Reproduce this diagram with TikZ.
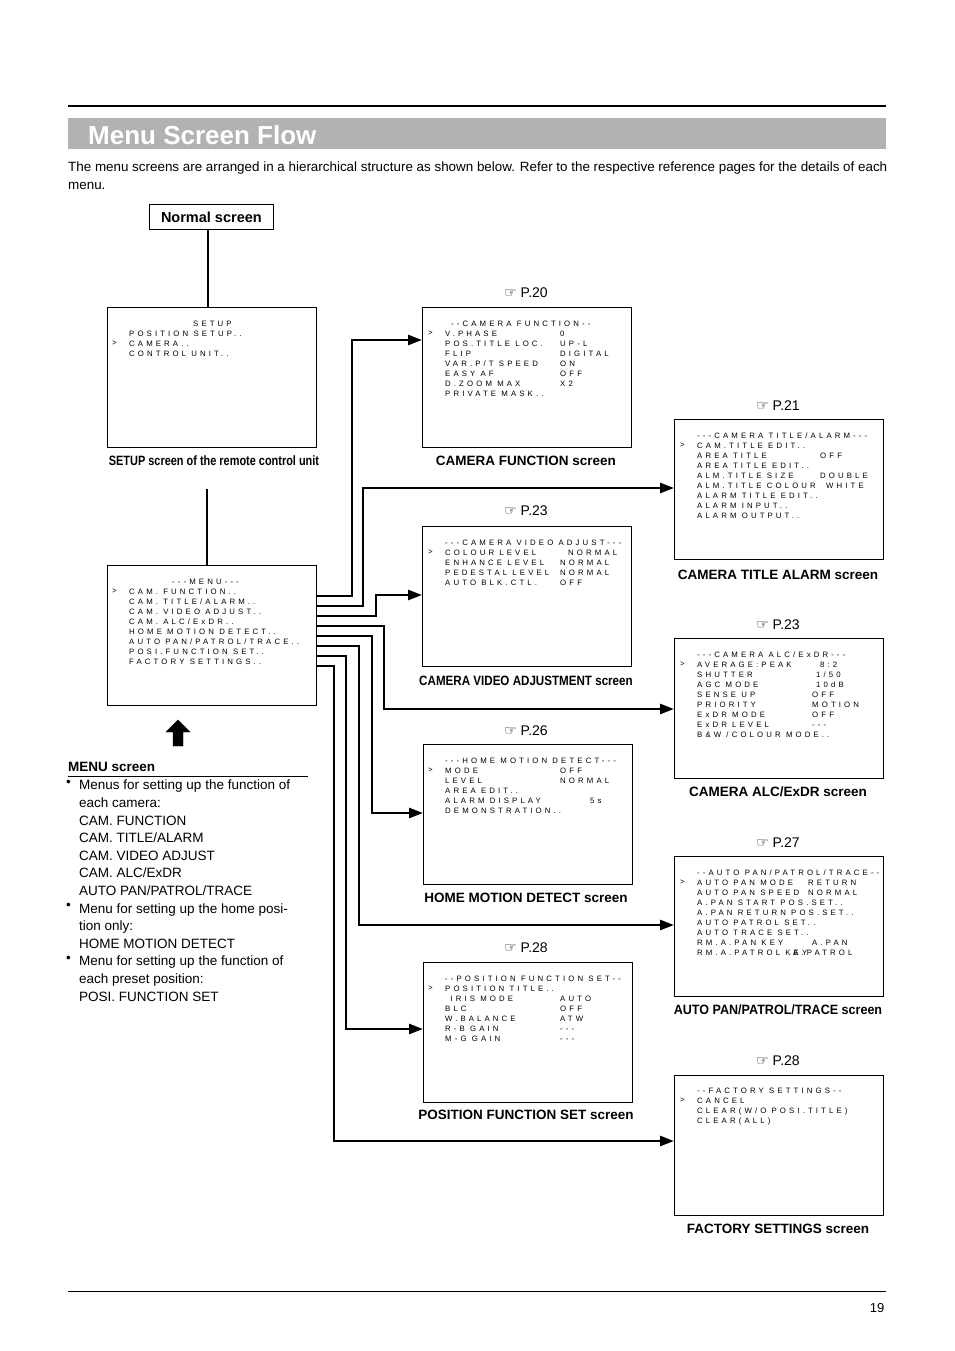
\documentclass[tikz,border=0pt]{standalone}
\usepackage{fontspec}
\setmainfont{Liberation Sans}
\newfontfamily\scrf{Liberation Sans}[LetterSpace=40]
\newfontfamily\djf{DejaVu Sans}
\usetikzlibrary{arrows.meta}
\newcommand\rw[3][115]{\makebox[#1pt][l]{#2}#3\\}
\begin{document}
\begin{tikzpicture}[x=1pt,y=-1pt,
  box/.style={draw,line width=0.8pt,anchor=north west,minimum width=209pt,minimum height=140pt,inner sep=0},
  st/.style={anchor=north west,inner sep=0,align=left,font=\scrf\fontsize{7.8}{10}\selectfont},
  capt/.style={font=\bfseries\fontsize{13.5}{15}\selectfont,inner sep=0},
  pg/.style={font=\fontsize{14}{16}\selectfont,inner sep=0},
  con/.style={line width=2.6pt,line cap=butt,line join=miter},
  arr/.style={con,-{Triangle[length=14pt,width=10pt]}},
  body/.style={font=\fontsize{13.5}{17.6}\selectfont,inner sep=0,anchor=north west,align=left}]
\useasboundingbox (0,0) rectangle (954,1351);
% header
\draw[line width=2.5pt] (68,106) -- (886,106);
\fill[gray!60] (68,118) rectangle (886,149);
\node[anchor=west,inner sep=0,text=white,font=\bfseries\fontsize{26}{30}\selectfont] (ttl) at (88,135) {Menu Screen Flow};
\node[body,font=\fontsize{13.4}{18}\selectfont] (intro) at (68,162) {The menu screens are arranged in a hierarchical structure as shown below. Refer to the respective reference pages for the details of each\\menu.};
\draw[line width=0.6pt] (68,1291) -- (886,1291);
\node[inner sep=0,font=\fontsize{13}{15}\selectfont] (pno) at (877,1308) {19};
% normal screen
\node[draw,line width=0.8pt,minimum width=124pt,minimum height=25pt,inner sep=0,anchor=north west,font=\bfseries\fontsize{14.5}{16}\selectfont] (normal) at (149,204) {Normal screen};
% boxes
\node[box] (setup) at (107,307) {};
\node[box] (menu) at (107,565) {};
\node[box] (cf) at (422,307) {};
\node[box] (va) at (422,526) {};
\node[box] (hm) at (423,744) {};
\node[box] (pf) at (423,962) {};
\node[box] (ta) at (674,419) {};
\node[box] (alc) at (674,638) {};
\node[box] (ap) at (674,856) {};
\node[box] (fs) at (674,1075) {};
% connectors setup/menu
\draw[con] (normal.south -| 208,0) -- (setup.north -| 208,0);
\coordinate (gapt) at (207,489);
\draw[con] (gapt) -- (menu.north -| 207,0);
\draw[fill=black] (178,720) -- (190,732) -- (183,732) -- (183,746) -- (173,746) -- (173,732) -- (166,732) -- cycle;
% screen texts
\node[st] (t1) at (129,321) {\hspace*{64pt}SETUP\\POSITION SETUP..\\CAMERA..\\CONTROL UNIT..};
\node[st] (c1) at (112,341) {>};
\node[st] (t2) at (129,579) {\hspace*{43pt}---MENU---\\CAM. FUNCTION..\\CAM. TITLE/ALARM..\\CAM. VIDEO ADJUST..\\CAM. ALC/ExDR..\\HOME MOTION DETECT..\\AUTO PAN/PATROL/TRACE..\\POSI.FUNCTION SET..\\FACTORY SETTINGS..};
\node[st] (c2) at (112,589) {>};
\node[st] (t3) at (445,321) {\hspace*{6pt}--CAMERA FUNCTION--\\\rw{V.PHASE}{0}\rw{POS.TITLE LOC.}{UP-L}\rw{FLIP}{DIGITAL}\rw{VAR.P/T SPEED}{ON}\rw{EASY AF}{OFF}\rw{D.ZOOM MAX}{X2}PRIVATE MASK..};
\node[st] (c3) at (428,331) {>};
\node[st] (t4) at (445,540) {---CAMERA VIDEO ADJUST---\\\rw[123]{COLOUR LEVEL}{NORMAL}\rw{ENHANCE LEVEL}{NORMAL}\rw{PEDESTAL LEVEL}{NORMAL}\rw{AUTO BLK.CTL.}{OFF}};
\node[st] (c4) at (428,550) {>};
\node[st] (t5) at (445,758) {---HOME MOTION DETECT---\\\rw{MODE}{OFF}\rw{LEVEL}{NORMAL}AREA EDIT..\\\rw[145]{ALARM DISPLAY}{5s}DEMONSTRATION..};
\node[st] (c5) at (428,768) {>};
\node[st] (t6) at (445,976) {--POSITION FUNCTION SET--\\POSITION TITLE..\\\rw{ IRIS MODE}{AUTO}\rw{BLC}{OFF}\rw{W.BALANCE}{ATW}\rw{R-B GAIN}{---}\rw{M-G GAIN}{---}};
\node[st] (c6) at (428,986) {>};
\node[st] (t7) at (697,433) {---CAMERA TITLE/ALARM---\\CAM.TITLE EDIT..\\\rw[123]{AREA TITLE}{OFF}AREA TITLE EDIT..\\\rw[123]{ALM.TITLE SIZE}{DOUBLE}\rw[129]{ALM.TITLE COLOUR}{WHITE}ALARM TITLE EDIT..\\ALARM INPUT..\\ALARM OUTPUT..};
\node[st] (c7) at (680,443) {>};
\node[st] (t8) at (697,652) {---CAMERA ALC/ExDR---\\\rw[115]{AVERAGE:PEAK}{\hspace{8pt}8:2}\rw[115]{SHUTTER}{\hspace{4pt}1/50}\rw[115]{AGC MODE}{\hspace{4pt}10dB}\rw[115]{SENSE UP}{OFF}\rw[115]{PRIORITY}{MOTION}\rw[115]{ExDR MODE}{OFF}\rw[115]{ExDR LEVEL}{---}B\&W /COLOUR MODE..};
\node[st] (c8) at (680,662) {>};
\node[st] (t9) at (697,870) {--AUTO PAN/PATROL/TRACE--\\\rw[111]{AUTO PAN MODE}{RETURN}\rw[111]{AUTO PAN SPEED}{NORMAL}A.PAN START POS.SET..\\A.PAN RETURN POS.SET..\\AUTO PATROL SET..\\AUTO TRACE SET..\\\rw[115]{RM.A.PAN KEY}{A.PAN}\rw[96]{RM.A.PATROL KEY}{A.PATROL}};
\node[st] (c9) at (680,880) {>};
\node[st] (t10) at (697,1088) {--FACTORY SETTINGS--\\CANCEL\\CLEAR(W/O POSI.TITLE)\\CLEAR(ALL)};
\node[st] (c10) at (680,1098) {>};
% captions
\node[capt,xscale=0.81] (k1) at (214,461) {SETUP screen of the remote control unit};
\node[capt] (k2) at (526,461) {CAMERA FUNCTION screen};
\node[capt,xscale=0.86] (k3) at (526,681) {CAMERA VIDEO ADJUSTMENT screen};
\node[capt] (k4) at (526,898) {HOME MOTION DETECT screen};
\node[capt] (k5) at (526,1115) {POSITION FUNCTION SET screen};
\node[capt] (k6) at (778,575) {CAMERA TITLE ALARM screen};
\node[capt] (k7) at (778,792) {CAMERA ALC/ExDR screen};
\node[capt,xscale=0.93] (k8) at (778,1010) {AUTO PAN/PATROL/TRACE screen};
\node[capt] (k9) at (778,1229) {FACTORY SETTINGS screen};
% page refs
\node[pg] (p1) at (526,293) {{\djf ☞} P.20};
\node[pg] (p2) at (526,511) {{\djf ☞} P.23};
\node[pg] (p3) at (526,731) {{\djf ☞} P.26};
\node[pg] (p4) at (526,948) {{\djf ☞} P.28};
\node[pg] (p5) at (778,406) {{\djf ☞} P.21};
\node[pg] (p6) at (778,625) {{\djf ☞} P.23};
\node[pg] (p7) at (778,843) {{\djf ☞} P.27};
\node[pg] (p8) at (778,1061) {{\djf ☞} P.28};
% menu connectors
\draw[arr] (menu.east |- 0,596) -- (352,596) -- (352,340) -- (cf.west |- 0,340);
\draw[arr] (menu.east |- 0,606) -- (363,606) -- (363,488) -- (ta.west |- 0,488);
\draw[arr] (menu.east |- 0,616) -- (376,616) -- (376,595) -- (va.west |- 0,595);
\draw[arr] (menu.east |- 0,626) -- (384,626) -- (384,709) -- (alc.west |- 0,709);
\draw[arr] (menu.east |- 0,636) -- (372,636) -- (372,813) -- (hm.west |- 0,813);
\draw[arr] (menu.east |- 0,646) -- (359,646) -- (359,925) -- (ap.west |- 0,925);
\draw[arr] (menu.east |- 0,656) -- (346,656) -- (346,1029) -- (pf.west |- 0,1029);
\draw[arr] (menu.east |- 0,666) -- (334,666) -- (334,1141) -- (fs.west |- 0,1141);
% menu screen description
\node[anchor=west,inner sep=0,font=\bfseries\fontsize{13.5}{15}\selectfont] (ms) at (68,767) {MENU screen};
\draw[line width=0.6pt] (68,776) -- (308,776);
\node[body] (b1) at (79,780) {Menus for setting up the function of\\each camera:\\CAM. FUNCTION\\CAM. TITLE/ALARM\\CAM. VIDEO ADJUST\\CAM. ALC/ExDR\\AUTO PAN/PATROL/TRACE\\Menu for setting up the home posi-\\tion only:\\HOME MOTION DETECT\\Menu for setting up the function of\\each preset position:\\POSI. FUNCTION SET};
\node[body] (d1) at (66,780) {•};
\node[body] (d2) at (66,903.2) {•};
\node[body] (d3) at (66,956) {•};
\end{tikzpicture}
\end{document}
